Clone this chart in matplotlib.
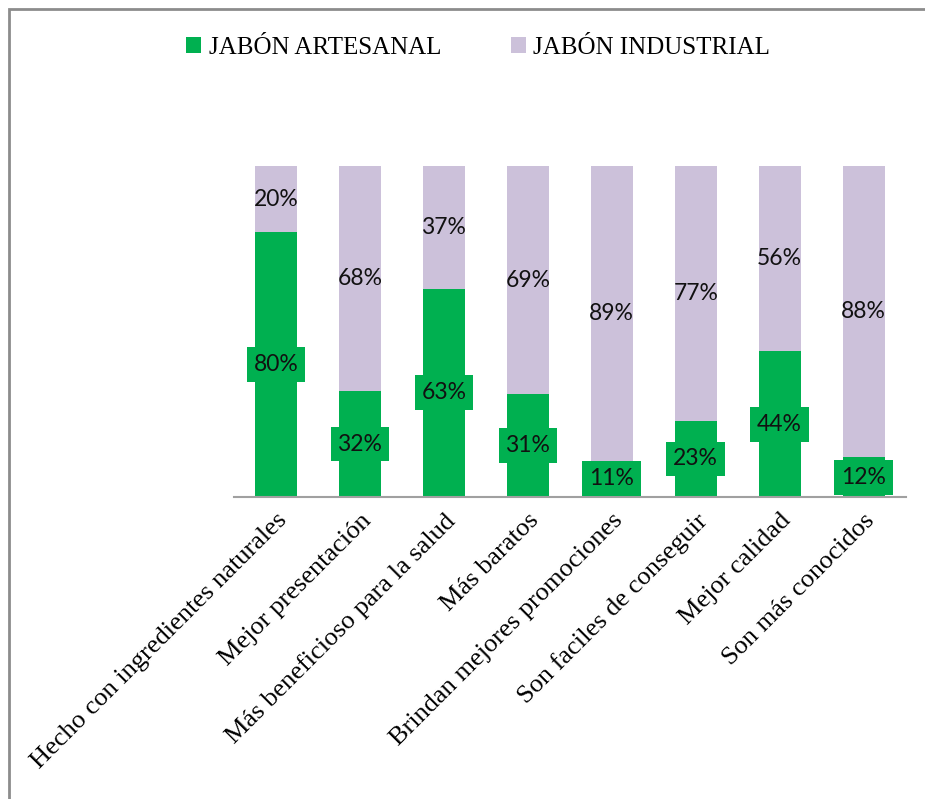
import matplotlib
matplotlib.use("Agg")
import matplotlib.pyplot as plt
from matplotlib.patches import Rectangle
import numpy as np

# categorías y porcentajes por tipo de jabón
categorias = [
    "Hecho con ingredientes naturales",
    "Mejor presentación",
    "Más beneficioso para la salud",
    "Más baratos",
    "Brindan mejores promociones",
    "Son faciles de conseguir",
    "Mejor calidad",
    "Son más conocidos",
]
artesanal = [80, 32, 63, 31, 11, 23, 44, 12]
industrial = [20, 68, 37, 69, 89, 77, 56, 88]

VERDE = "#00B050"
LILA = "#CCC1DA"

fig = plt.figure(figsize=(9.25, 7.99), dpi=100)
ax = fig.add_axes([0.253, 0.378, 0.726, 0.414])

x = np.arange(len(categorias))
a = np.array(artesanal) / 100
b = np.array(industrial) / 100

ax.bar(x, a, width=0.5, color=VERDE, label="JABÓN ARTESANAL")
ax.bar(x, b, width=0.5, bottom=a, color=LILA, label="JABÓN INDUSTRIAL")

# etiquetas de datos
for xi, va, vb in zip(x, artesanal, industrial):
    ax.text(xi, va / 200, f"{va}%", ha="center", va="center", fontsize=16.5,
            family="Lato", color="#111111",
            bbox=dict(boxstyle="square,pad=0.3", facecolor=VERDE, edgecolor="none"))
    ax.text(xi, va / 100 + vb / 200, f"{vb}%", ha="center", va="center",
            fontsize=16.5, family="Lato", color="#111111")

ax.set_xlim(-0.5, len(categorias) - 0.5)
ax.set_ylim(0, 1)
ax.set_yticks([])
for s in ["top", "right", "left"]:
    ax.spines[s].set_visible(False)
ax.spines["bottom"].set_color("#A0A0A0")
ax.spines["bottom"].set_linewidth(1.5)

ax.set_xticks(x)
ax.set_xticklabels(categorias, rotation=45, ha="right", rotation_mode="anchor",
                   family="Liberation Serif", fontsize=19)
ax.tick_params(axis="x", length=0, pad=9)

leg = fig.legend(loc="center", bbox_to_anchor=(0.517, 0.94), ncol=2, frameon=False,
                 prop={"family": "Liberation Serif", "size": 18},
                 handlelength=0.6, handleheight=0.6, handletextpad=0.3,
                 columnspacing=2.8)

# marco del gráfico
fig.add_artist(Rectangle((0.01, -0.1), 1.2, 1.089, transform=fig.transFigure,
                         fill=False, edgecolor="#8C8C8C", linewidth=2, clip_on=False))

fig.savefig("out.png", dpi=100)
